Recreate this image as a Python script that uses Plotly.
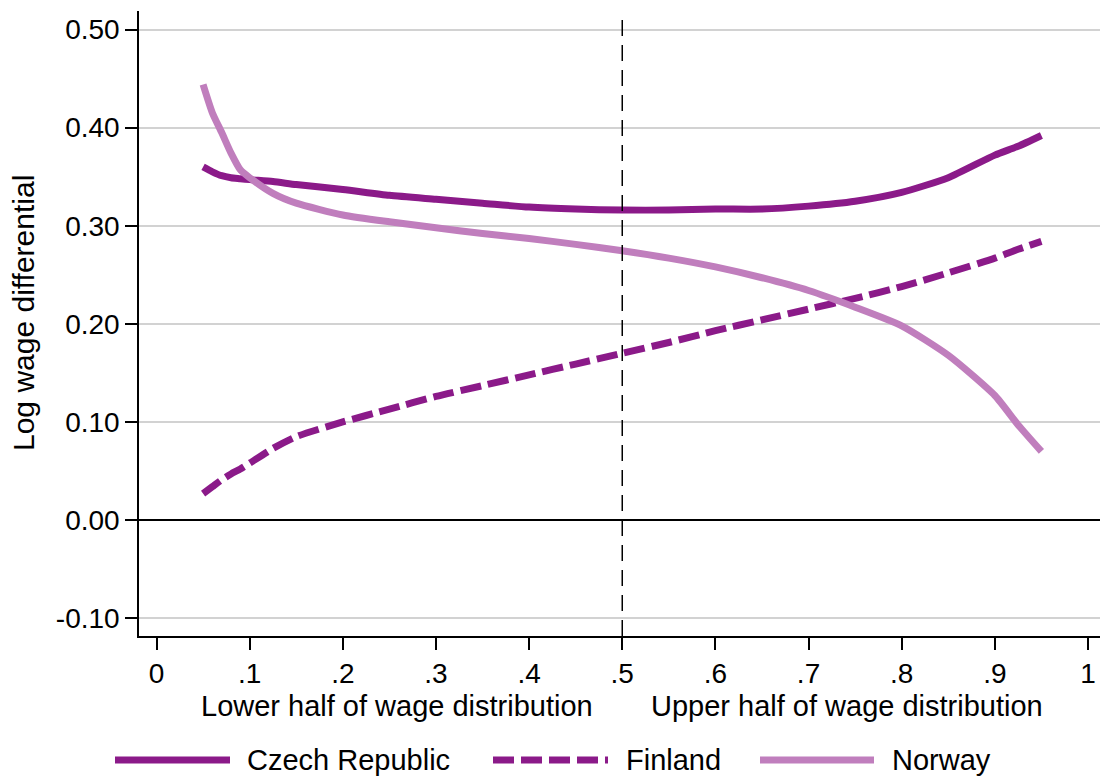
import plotly.graph_objects as go

# Percentiles of the wage distribution at which the gap is estimated
quantiles = [0.05, 0.06, 0.07, 0.08, 0.09, 0.10, 0.125, 0.15, 0.20, 0.25, 0.30,
             0.35, 0.40, 0.45, 0.50, 0.55, 0.60, 0.65, 0.70, 0.75, 0.80, 0.85,
             0.90, 0.925, 0.95]

czech = [0.360, 0.355, 0.351, 0.349, 0.348, 0.347, 0.345, 0.342, 0.337, 0.331, 0.327,
         0.323, 0.319, 0.317, 0.316, 0.316, 0.317, 0.317, 0.320, 0.325, 0.334, 0.349,
         0.372, 0.381, 0.392]

finland = [0.027, 0.034, 0.041, 0.047, 0.052, 0.058, 0.073, 0.085, 0.100, 0.113, 0.126,
           0.137, 0.148, 0.159, 0.170, 0.181, 0.193, 0.204, 0.215, 0.226, 0.238, 0.252,
           0.267, 0.276, 0.284]

norway = [0.444, 0.415, 0.395, 0.374, 0.357, 0.349, 0.333, 0.323, 0.311, 0.304, 0.298,
          0.292, 0.287, 0.281, 0.2745, 0.267, 0.258, 0.247, 0.234, 0.217, 0.198, 0.168,
          0.127, 0.097, 0.070]

x_tickvals = [0, 0.1, 0.2, 0.3, 0.4, 0.5, 0.6, 0.7, 0.8, 0.9, 1]
x_ticktext = ["0", ".1", ".2", ".3", ".4", ".5", ".6", ".7", ".8", ".9", "1"]
y_tickvals = [-0.1, 0.0, 0.1, 0.2, 0.3, 0.4, 0.5]
y_ticktext = ["-0.10", "0.00", "0.10", "0.20", "0.30", "0.40", "0.50"]

series_names = ["Czech Republic", "Finland", "Norway"]

DARK = "#8B1A89"
LIGHT = "#C07EBD"
FONT = "Liberation Sans, Arial, sans-serif"
FS_TICK = 28
FS_TEXT = 29
FS_YTITLE = 30
LW = 7
FINLAND_DASH = "21px,7px"

fig = go.Figure()
fig.add_trace(go.Scatter(x=quantiles, y=czech, mode="lines", name=series_names[0],
                         line=dict(color=DARK, width=LW, shape="spline", smoothing=0.6),
                         showlegend=False))
fig.add_trace(go.Scatter(x=quantiles, y=finland, mode="lines", name=series_names[1],
                         line=dict(color=DARK, width=LW, dash=FINLAND_DASH,
                                   shape="spline", smoothing=0.6),
                         showlegend=False))
fig.add_trace(go.Scatter(x=quantiles, y=norway, mode="lines", name=series_names[2],
                         line=dict(color=LIGHT, width=LW, shape="spline", smoothing=0.6),
                         showlegend=False))

# median divider
fig.add_shape(type="line", xref="x", yref="paper", x0=0.5, x1=0.5, y0=0, y1=1,
              line=dict(color="black", width=1.5, dash="16px,9px"), layer="above")

# plot area spans px 139..1100 horizontally and 11..636 vertically
L, R, T, B = 139, 1100, 11, 636
W, H = R - L, B - T


def px_x(px):
    return (px - L) / W


def px_y(py):
    return (B - py) / H


# x-axis section labels
for label, cx in (("Lower half of wage distribution", 396.5),
                  ("Upper half of wage distribution", 847)):
    fig.add_annotation(text=label, xref="paper", yref="paper",
                       x=px_x(cx), y=px_y(706), xanchor="center", yanchor="middle",
                       showarrow=False, borderpad=0,
                       font=dict(family=FONT, size=FS_TEXT, color="black"))

# y-axis title
fig.add_annotation(text="Log wage differential", xref="paper", yref="paper",
                   x=px_x(23), y=px_y(313), xanchor="center", yanchor="middle",
                   textangle=-90, showarrow=False,
                   font=dict(family=FONT, size=FS_YTITLE, color="black"))

# legend row
legend_items = [
    (series_names[0], DARK, "solid", 115, 230, 245),
    (series_names[1], DARK, FINLAND_DASH, 493, 608, 624),
    (series_names[2], LIGHT, "solid", 760, 874, 890),
]
LEG_Y = 760
for name, color, dash, s0, s1, tx in legend_items:
    fig.add_shape(type="line", xref="paper", yref="paper",
                  x0=px_x(s0), x1=px_x(s1), y0=px_y(LEG_Y), y1=px_y(LEG_Y),
                  line=dict(color=color, width=LW, dash=dash))
    fig.add_annotation(text=name, xref="paper", yref="paper",
                       x=px_x(tx), y=px_y(LEG_Y), xanchor="left", yanchor="middle",
                       showarrow=False, font=dict(family=FONT, size=FS_TEXT, color="black"))

fig.update_layout(
    width=1103, height=777,
    margin=dict(l=L, r=1103 - R, t=T, b=777 - B, pad=0),
    paper_bgcolor="white", plot_bgcolor="white",
    font=dict(family=FONT, size=FS_TICK, color="black"),
    showlegend=False,
    xaxis=dict(range=[-0.0188, 1.0129], tickvals=x_tickvals, ticktext=x_ticktext,
               showgrid=False, zeroline=False, showline=True, linecolor="black",
               linewidth=1.5, ticks="outside", ticklen=12, tickwidth=1.5,
               tickcolor="black", tickfont=dict(family=FONT, size=FS_TICK)),
    yaxis=dict(range=[-0.1182, 0.5189], tickvals=y_tickvals, ticktext=y_ticktext,
               showgrid=True, gridcolor="#D2D2D2", gridwidth=1.5,
               zeroline=True, zerolinecolor="black", zerolinewidth=1.5,
               showline=True, linecolor="black", linewidth=1.5,
               ticks="outside", ticklen=12, tickwidth=1.5, tickcolor="black",
               tickfont=dict(family=FONT, size=FS_TICK)),
)

fig.write_html("out.html")
